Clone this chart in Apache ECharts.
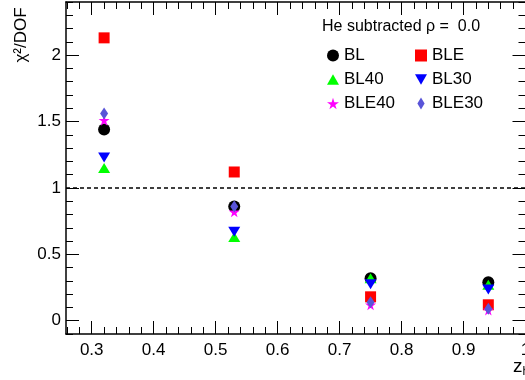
<!DOCTYPE html>
<html>
<head>
<meta charset="utf-8">
<script src="https://cdn.jsdelivr.net/npm/echarts@6/dist/echarts.min.js"></script>
<style>html,body{margin:0;padding:0;background:#fff;}#c{width:525px;height:380px;}</style>
</head>
<body>
<div id="c"></div>
<script>
// ---- data ----
const xVals = [0.32, 0.53, 0.75, 0.94];
const BL    = [1.44, 0.86, 0.32, 0.29];
const BLE   = [2.13, 1.12, 0.18, 0.12];
const BL40  = [1.15, 0.63, 0.32, 0.27];
const BL30  = [1.23, 0.67, 0.275, 0.235];
const BLE40 = [1.51, 0.82, 0.12, 0.08];
const BLE30 = [1.56, 0.86, 0.14, 0.09];
const xMajorTicks = [0.3, 0.4, 0.5, 0.6, 0.7, 0.8, 0.9, 1.0];
const yMajorTicks = [0, 0.5, 1, 1.5, 2];
const refLine = 1;
const legendTitle = 'He subtracted \u03c1 =  0.0';

const FONT = '"Liberation Sans", Arial, Helvetica, sans-serif';
const xMin = 0.2585, xMax = 1.0, yMin = -0.1, yMax = 2.4;

function minorList(min, max, step) {
  const out = [];
  const n0 = Math.ceil(min / step - 1e-9), n1 = Math.floor(max / step + 1e-9);
  for (let k = n0; k <= n1; k++) out.push(+(k * step).toFixed(4));
  return out;
}
const xMinor = minorList(xMin, xMax, 0.02);
const yMinor = minorList(yMin, yMax, 0.1);

function pts(v) { return xVals.map((x, i) => [x, v[i]]); }

const STAR = 'path://M50,0L61,35L98,35L68,57L79,91L50,70L21,91L32,57L2,35L39,35Z';
const DOWN = 'path://M0,0L100,0L50,86Z';
const UP = 'path://M50,0L100,86L0,86Z';
const DIAM = 'path://M30,0L60,50L30,100L0,50Z';

function xAx(pos, ticks, len, labels, line) {
  return {
    type: 'value', min: xMin, max: xMax, position: pos,
    axisLine: { show: line, onZero: false, lineStyle: { color: '#000', width: 1.5 } },
    axisTick: { show: true, inside: true, length: len, customValues: ticks, lineStyle: { color: '#000', width: 1 } },
    axisLabel: labels ? { show: true, customValues: ticks, margin: 8, color: '#000', fontSize: 17, fontFamily: FONT,
      hideOverlap: false, showMaxLabel: true, showMinLabel: true, formatter: v => String(+v.toFixed(2)) } : { show: false },
    splitLine: { show: false }
  };
}
function yAx(pos, ticks, len, labels, line) {
  return {
    type: 'value', min: yMin, max: yMax, position: pos,
    axisLine: { show: line, onZero: false, lineStyle: { color: '#000', width: 1.5 } },
    axisTick: { show: true, inside: true, length: len, customValues: ticks, lineStyle: { color: '#000', width: 1 } },
    axisLabel: labels ? { show: true, customValues: ticks, margin: 5, color: '#000', fontSize: 17, fontFamily: FONT,
      formatter: v => String(+v.toFixed(2)) } : { show: false },
    splitLine: { show: false }
  };
}

const mk = (name, data, symbol, size, color, extra) => Object.assign({
  name, type: 'scatter', data: pts(data), symbol, symbolSize: size,
  itemStyle: { color, opacity: 1 }, xAxisIndex: 0, yAxisIndex: 0, z: 3
}, extra || {});

const legendText = { fontFamily: FONT, fontSize: 17, lineHeight: 12, color: '#000', padding: [0, 0, 0, 0] };

const chart = echarts.init(document.getElementById('c'), null, { renderer: 'canvas' });
chart.setOption({
  animation: false,
  backgroundColor: '#fff',
  grid: { left: 66, right: -0.5, top: 2, bottom: 46, containLabel: false, outerBoundsMode: 'none' },
  xAxis: [
    xAx('bottom', xMajorTicks, 13, true, true),
    xAx('bottom', xMinor, 7, false, false),
    xAx('top', xMajorTicks, 13, false, true),
    xAx('top', xMinor, 7, false, false)
  ],
  yAxis: [
    yAx('left', yMajorTicks, 13, true, true),
    yAx('left', yMinor, 7, false, false),
    yAx('right', yMajorTicks, 13, false, true),
    yAx('right', yMinor, 7, false, false)
  ],
  title: {
    text: legendTitle, left: 322, top: 19, padding: 0,
    textStyle: { fontFamily: FONT, fontSize: 16, fontWeight: 'normal', color: '#000' }
  },
  legend: [
    {
      orient: 'vertical', left: 327, top: 47, padding: 0, itemWidth: 12, itemHeight: 12, itemGap: 7,
      data: ['BL', 'BL40', 'BLE40'],
      textStyle: legendText
    },
    {
      orient: 'vertical', left: 415, top: 47, padding: 0, itemWidth: 12, itemHeight: 12, itemGap: 7,
      data: ['BLE', 'BL30', { name: 'BLE30', icon: DIAM }],
      textStyle: legendText
    }
  ],
  graphic: [
    {
      type: 'text', x: 21, y: 35, rotation: Math.PI / 2,
      style: { text: '\u03c7\u00b2/DOF', fontFamily: FONT, fontSize: 17, fill: '#000', align: 'center', verticalAlign: 'middle' }
    },
    {
      type: 'text', x: 513, y: 356,
      style: { text: '{a|z}{b|h}', fontFamily: FONT, fill: '#000', align: 'left', verticalAlign: 'top',
        rich: { a: { fontSize: 19, fontFamily: FONT, fill: '#000' }, b: { fontSize: 12, fontFamily: FONT, fill: '#000', padding: [10, 0, 0, 0] } } }
    }
  ],
  series: [
    mk('BL', BL, 'circle', 12, '#000000', {
      markLine: {
        silent: true, symbol: 'none', label: { show: false },
        lineStyle: { color: '#000', type: [4, 3], width: 1.5 },
        data: [{ yAxis: refLine }]
      }
    }),
    mk('BLE', BLE, 'rect', 11, '#ff0000'),
    mk('BL40', BL40, UP, [12, 10], '#00ff00'),
    mk('BL30', BL30, DOWN, [12, 10], '#0000ff'),
    mk('BLE40', BLE40, STAR, 11, '#ff00ff'),
    mk('BLE30', BLE30, DIAM, [8, 12], '#5954d8')
  ]
});
</script>
</body>
</html>
